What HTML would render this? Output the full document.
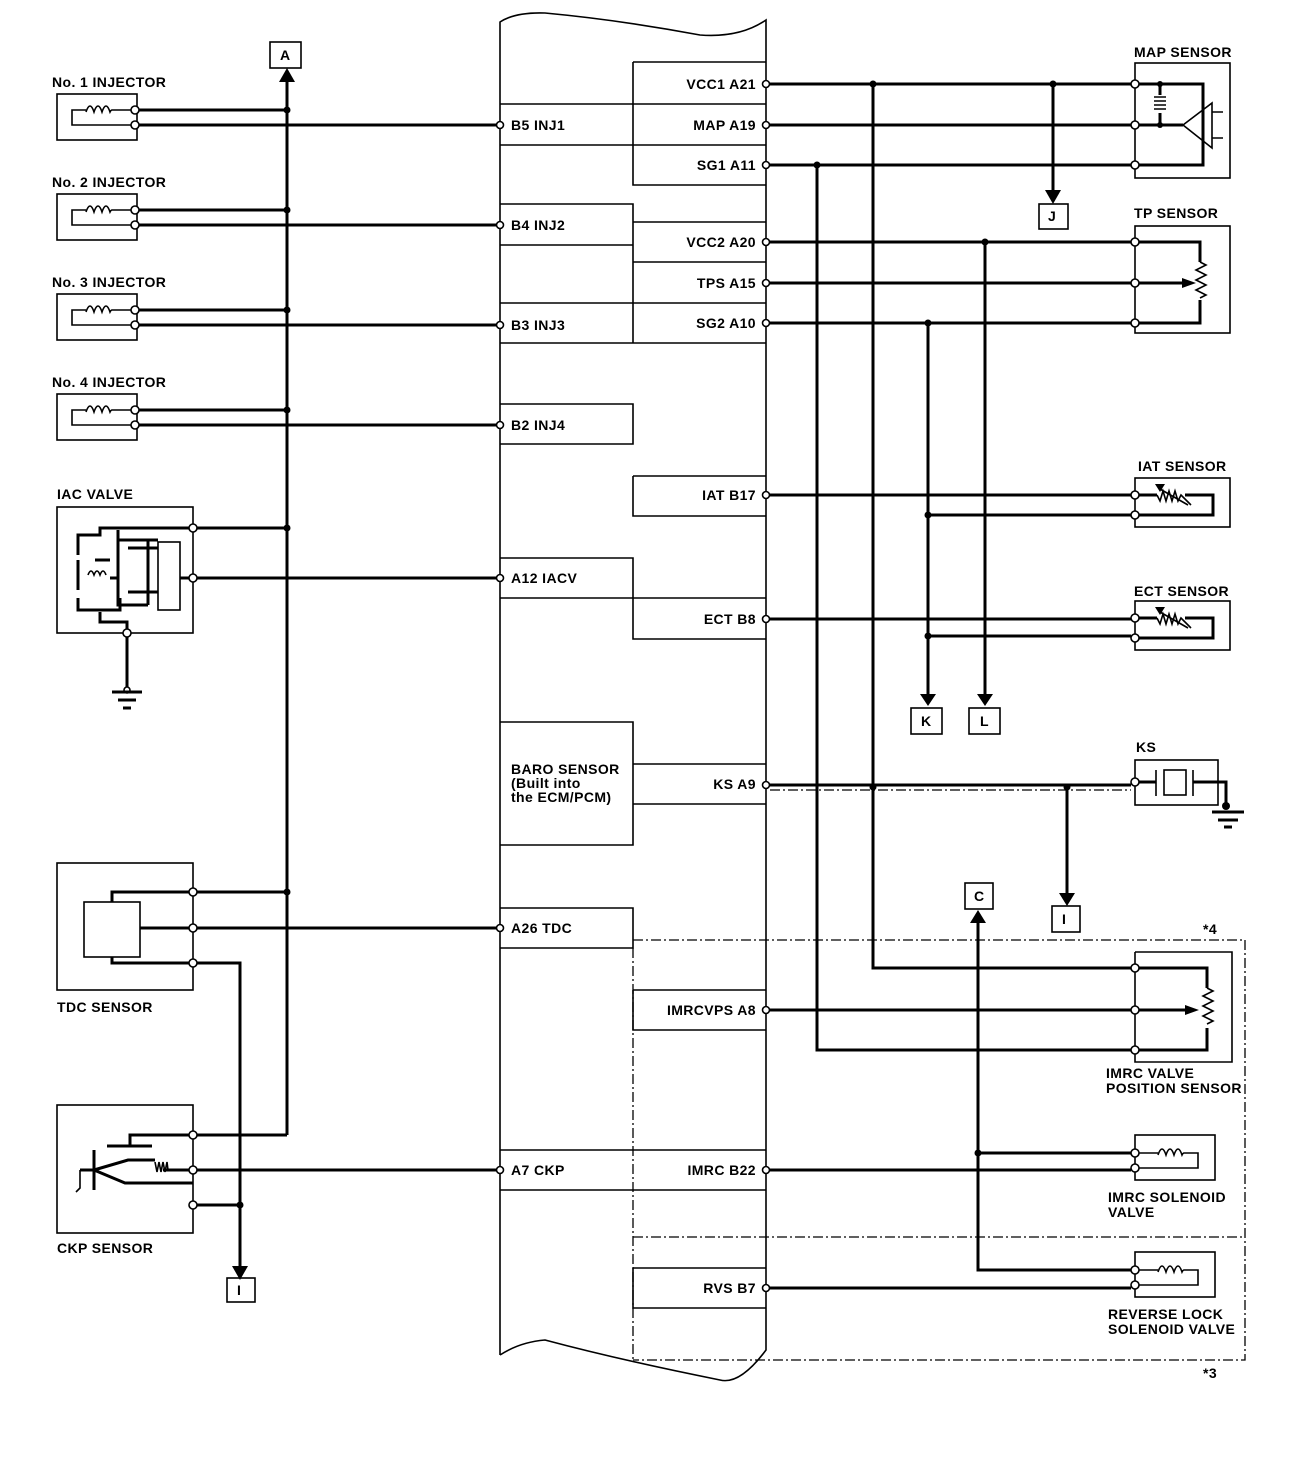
<!DOCTYPE html>
<html><head><meta charset="utf-8"><style>
html,body{margin:0;padding:0;background:#fff}
svg{display:block}
text{font-family:"Liberation Sans",sans-serif;font-weight:bold;font-size:14px;letter-spacing:0.4px;fill:#000}
.w{stroke:#000;stroke-width:3;fill:none}
.t{stroke:#000;stroke-width:1.6;fill:none}
.d{stroke:#000;stroke-width:1.3;fill:none;stroke-dasharray:10 3 2 3}
.p{fill:#fff;stroke:#000;stroke-width:1.6}
.j{fill:#000}
</style></head><body>
<svg width="1312" height="1460" viewBox="0 0 1312 1460" xmlns="http://www.w3.org/2000/svg">

<!-- ECM body -->
<path class="t" d="M500,1355 L500,22 Q515,12 545,13 Q620,20 700,35 Q740,38 766,20 L766,1350 Q740,1385 720,1380 Q620,1360 545,1340 Q520,1342 500,1355"/>
<path class="t" d="M633,62 H766 M633,62 V185 H766 M500,104 H766 M500,145 H766"/>
<path class="t" d="M500,204 H633 V343 M500,245 H633 M633,222 H766 M633,262 H766 M633,303 H766 M500,303 H633 M500,343 H766"/>
<path class="t" d="M500,404 H633 V444 H500"/>
<path class="t" d="M633,476 H766 M633,476 V516 H766"/>
<path class="t" d="M500,558 H633 V639 H766 M500,598 H766"/>
<path class="t" d="M500,722 H633 V845 H500 M633,764 H766 M633,804 H766"/>
<path class="t" d="M500,908 H633 V948 H500"/>
<path class="t" d="M633,990 H766 M633,990 V1030 H766"/>
<path class="t" d="M500,1150 H766 M500,1190 H766"/>
<path class="t" d="M633,1268 H766 M633,1268 V1308 H766"/>
<path class="d" d="M633,948 V1360 M633,940 H1245 V1360 H633 M633,1237 H1245"/>
<text x="1203" y="934" font-size="12">*4</text>
<text x="1203" y="1378" font-size="12">*3</text>

<g text-anchor="end">
<text x="756" y="89">VCC1 A21</text><text x="756" y="130">MAP A19</text><text x="756" y="170">SG1 A11</text>
<text x="756" y="247">VCC2 A20</text><text x="756" y="288">TPS A15</text><text x="756" y="328">SG2 A10</text>
<text x="756" y="500">IAT B17</text><text x="756" y="624">ECT B8</text><text x="756" y="789">KS A9</text>
<text x="756" y="1015">IMRCVPS A8</text><text x="756" y="1175">IMRC B22</text><text x="756" y="1293">RVS B7</text>
</g>
<text x="511" y="130">B5 INJ1</text><text x="511" y="230">B4 INJ2</text><text x="511" y="330">B3 INJ3</text><text x="511" y="430">B2 INJ4</text>
<text x="511" y="583">A12 IACV</text><text x="511" y="933">A26 TDC</text><text x="511" y="1175">A7 CKP</text>
<text x="511" y="774">BARO SENSOR</text><text x="511" y="788" font-size="12">(Built into</text><text x="511" y="802" font-size="12">the ECM/PCM)</text>

<path class="w" d="M287,1135 V80"/><path d="M279,82 L287,68 L295,82z"/>
<rect class="t" x="270" y="42" width="31" height="26"/><text x="280" y="60">A</text>

<g id="inj">
<text x="52" y="87">No. 1 INJECTOR</text>
<rect class="t" x="57" y="94" width="80" height="46"/>
<path class="t" stroke-width="2.5" d="M135,110 H112 M86,110 H72 V125 H135"/>
<path class="t" stroke-width="2.2" d="M86,112 q4,-12 8,0 q4,-12 8,0 q4,-12 8,0 q1,-2 2,-2"/>
<path class="w" d="M139,110 H287 M139,125 H496"/>
<circle class="p" cx="135" cy="110" r="4"/><circle class="p" cx="135" cy="125" r="4"/>
<circle class="j" cx="287" cy="110" r="3.5"/>
</g>
<use href="#inj" transform="translate(0,100)"/><use href="#inj" transform="translate(0,200)"/><use href="#inj" transform="translate(0,300)"/>
<rect x="50" y="174" width="130" height="16" fill="#fff"/><rect x="50" y="274" width="130" height="16" fill="#fff"/><rect x="50" y="374" width="130" height="16" fill="#fff"/>
<text x="52" y="187">No. 2 INJECTOR</text><text x="52" y="287">No. 3 INJECTOR</text><text x="52" y="387">No. 4 INJECTOR</text>

<text x="57" y="499">IAC VALVE</text>
<rect class="t" x="57" y="507" width="136" height="126"/>
<path class="w" stroke-width="2.5" d="M193,528 H100 V535 H78 V555 M78,560 V590 M78,598 V610 H120 V598 M100,612 V622 H127 V633 M118,540 V605 H148 M118,530 V590 M148,540 V605 M110,560 H95 M110,578 H118 M128,548 H158 M128,592 H158 M158,540 H118"/>
<path class="t" stroke-width="2" d="M88,575 q3,-8 6,0 q3,-8 6,0 q3,-8 6,0"/>
<rect class="t" x="158" y="542" width="22" height="68"/>
<path class="w" d="M180,578 H496 M197,528 H287 M127,637 V688"/>
<circle class="p" cx="193" cy="528" r="4"/><circle class="p" cx="193" cy="578" r="4"/><circle class="p" cx="127" cy="633" r="4"/>
<circle class="j" cx="287" cy="528" r="3.5"/>
<circle class="p" cx="127" cy="690" r="3"/>
<path class="w" d="M112,692 H142 M118,700 H136 M123,708 H131"/>

<rect class="t" x="57" y="863" width="136" height="127"/>
<rect class="t" x="84" y="902" width="56" height="55"/>
<path class="w" stroke-width="2.5" d="M112,902 V892 H193 M140,928 H193 M112,957 V963 H193"/>
<path class="w" d="M197,892 H287 M197,928 H496 M197,963 H240 V1268"/>
<path d="M232,1266 L240,1280 L248,1266z"/>
<circle class="p" cx="193" cy="892" r="4"/><circle class="p" cx="193" cy="928" r="4"/><circle class="p" cx="193" cy="963" r="4"/>
<circle class="j" cx="287" cy="892" r="3.5"/>
<text x="57" y="1012">TDC SENSOR</text>

<rect class="t" x="57" y="1105" width="136" height="128"/>
<path class="w" stroke-width="2.5" d="M193,1135 H130 V1146 M107,1146 H152 M94,1150 V1190 M94,1170 L128,1160 H155 M163,1170 H193 M94,1170 L125,1183 H193 M80,1170 H94"/>
<path class="t" stroke-width="2" d="M155,1162 l2,10 l2,-10 l2,10 l2,-10 l2,10 l2,-10 l1,8"/>
<path class="t" d="M80,1170 V1188 L76,1192"/>
<path class="w" d="M197,1135 H287 M197,1170 H496 M197,1205 H240"/>
<circle class="p" cx="193" cy="1135" r="4"/><circle class="p" cx="193" cy="1170" r="4"/><circle class="p" cx="193" cy="1205" r="4"/>
<circle class="j" cx="240" cy="1205" r="3.5"/>
<text x="57" y="1253">CKP SENSOR</text>
<rect class="t" x="227" y="1278" width="28" height="24"/><text x="237" y="1295">I</text>

<path class="w" d="M770,84 H1131 M770,125 H1131 M770,165 H1131"/>
<path class="w" d="M873,84 V968 H1131 M1053,84 V192 M817,165 V1050 H1131"/>
<path d="M1045,190 L1053,204 L1061,190z"/>
<circle class="j" cx="873" cy="84" r="3.5"/><circle class="j" cx="1053" cy="84" r="3.5"/><circle class="j" cx="817" cy="165" r="3.5"/>
<rect class="t" x="1039" y="204" width="29" height="25"/><text x="1048" y="221">J</text>
<text x="1134" y="57">MAP SENSOR</text>
<rect class="t" x="1135" y="63" width="95" height="115"/>
<path class="w" stroke-width="2.5" d="M1135,84 H1203 V165 H1135 M1135,125 H1183 M1160,84 V95 M1160,113 V125"/>
<path class="t" stroke-width="2" d="M1154,97 h12 M1154,101 h12 M1154,105 h12 M1154,109 h12"/>
<circle class="j" cx="1160" cy="84" r="3"/><circle class="j" cx="1160" cy="125" r="3"/>
<path class="t" d="M1183,125 L1212,103 V148 Z M1212,112 H1223 M1212,138 H1223"/>
<circle class="p" cx="1135" cy="84" r="4"/><circle class="p" cx="1135" cy="125" r="4"/><circle class="p" cx="1135" cy="165" r="4"/>
<text x="1134" y="218">TP SENSOR</text>
<rect class="t" x="1135" y="226" width="95" height="107"/>
<path class="w" d="M770,242 H1131 M770,283 H1131 M770,323 H1131 M985,242 V694 M928,323 V694 M928,515 H1131 M928,636 H1131 M770,495 H1131 M770,619 H1131 M770,1010 H1131 M770,1170 H1131 M770,1288 H1131"/>
<path class="w" stroke-width="2.5" d="M1139,242 H1200 V262 M1200,300 V323 H1139 M1139,283 H1183"/>
<path d="M1182,278 L1196,283 L1182,288z"/>
<path class="t" stroke-width="2" d="M1200,262 l6,3 l-10,5 l10,5 l-10,5 l10,5 l-10,5 l10,5 l-6,3"/>
<circle class="p" cx="1135" cy="242" r="4"/><circle class="p" cx="1135" cy="283" r="4"/><circle class="p" cx="1135" cy="323" r="4"/>
<circle class="j" cx="985" cy="242" r="3.5"/><circle class="j" cx="928" cy="323" r="3.5"/><circle class="j" cx="928" cy="515" r="3.5"/><circle class="j" cx="928" cy="636" r="3.5"/>
<path d="M920,694 L928,706 L936,694z M977,694 L985,706 L993,694z"/>
<rect class="t" x="911" y="708" width="31" height="26"/><text x="921" y="726">K</text>
<rect class="t" x="969" y="708" width="31" height="26"/><text x="980" y="726">L</text>
<g id="th">
<text x="1138" y="471">IAT SENSOR</text>
<rect class="t" x="1135" y="478" width="95" height="49"/>
<path class="w" stroke-width="2.5" d="M1139,495 H1157 M1185,495 H1213 V515 H1139"/>
<path class="t" stroke-width="2" d="M1157,495 l3,6 l3,-10 l3,10 l3,-10 l3,10 l3,-10 l3,10 l3,-6 l10,10 M1160,489 l28,16"/>
<path d="M1155,484 L1165,484 L1160,492z"/>
<circle class="p" cx="1135" cy="495" r="4"/><circle class="p" cx="1135" cy="515" r="4"/>
</g>
<use href="#th" transform="translate(0,123)"/>
<rect x="1130" y="581" width="115" height="16" fill="#fff"/>
<text x="1134" y="596">ECT SENSOR</text>
<path class="w" d="M770,785 H1131"/>
<path class="d" d="M770,790 H1131"/>
<path class="w" d="M1067,785 V895"/><path d="M1059,893 L1067,906 L1075,893z"/>
<circle class="j" cx="873" cy="787" r="3.5"/><circle class="j" cx="1067" cy="787" r="3.5"/>
<rect class="t" x="1052" y="906" width="28" height="26"/><text x="1062" y="924">I</text>
<text x="1136" y="752">KS</text>
<rect class="t" x="1135" y="760" width="83" height="45"/>
<path class="w" stroke-width="2.5" d="M1139,782 H1156 M1193,782 H1226 V805"/>
<path class="t" stroke-width="2" d="M1156,770 V796 M1193,770 V796"/>
<rect class="t" x="1164" y="770" width="22" height="25"/>
<circle class="j" cx="1226" cy="806" r="4"/>
<path class="w" d="M1212,812 H1244 M1218,820 H1238 M1224,827 H1232"/>
<circle class="p" cx="1135" cy="782" r="4"/>
<rect class="t" x="965" y="883" width="28" height="26"/><text x="974" y="901">C</text>
<path d="M970,923 L978,910 L986,923z"/>
<path class="w" d="M978,920 V1270 H1131 M978,1153 H1131"/>
<circle class="j" cx="978" cy="1153" r="3.5"/>
<path class="t" d="M1135,952 H1232 V1062 H1135 V952"/>
<path class="w" stroke-width="2.5" d="M1139,968 H1207 V988 M1207,1028 V1050 H1139 M1139,1010 H1187"/>
<path d="M1185,1005 L1199,1010 L1185,1015z"/>
<path class="t" stroke-width="2" d="M1207,988 l6,3 l-10,5 l10,5 l-10,5 l10,5 l-10,5 l10,5 l-6,3"/>
<circle class="p" cx="1135" cy="968" r="4"/><circle class="p" cx="1135" cy="1010" r="4"/><circle class="p" cx="1135" cy="1050" r="4"/>
<text x="1106" y="1078">IMRC VALVE</text><text x="1106" y="1093">POSITION SENSOR</text>
<g id="sol">
<rect class="t" x="1135" y="1135" width="80" height="45"/>
<path class="t" stroke-width="2.5" d="M1139,1153 H1158 M1184,1153 H1198 V1168 H1139"/>
<path class="t" stroke-width="2.2" d="M1158,1155 q4,-12 8,0 q4,-12 8,0 q4,-12 8,0 q1,-2 2,-2"/>
<circle class="p" cx="1135" cy="1153" r="4"/><circle class="p" cx="1135" cy="1168" r="4"/>
</g>
<use href="#sol" transform="translate(0,117)"/>
<text x="1108" y="1202">IMRC SOLENOID</text><text x="1108" y="1217">VALVE</text>
<text x="1108" y="1319">REVERSE LOCK</text><text x="1108" y="1334">SOLENOID VALVE</text>

<g>
<circle class="p" cx="766" cy="84" r="3.5"/><circle class="p" cx="766" cy="125" r="3.5"/><circle class="p" cx="766" cy="165" r="3.5"/>
<circle class="p" cx="766" cy="242" r="3.5"/><circle class="p" cx="766" cy="283" r="3.5"/><circle class="p" cx="766" cy="323" r="3.5"/>
<circle class="p" cx="766" cy="495" r="3.5"/><circle class="p" cx="766" cy="619" r="3.5"/><circle class="p" cx="766" cy="785" r="3.5"/>
<circle class="p" cx="766" cy="1010" r="3.5"/><circle class="p" cx="766" cy="1170" r="3.5"/><circle class="p" cx="766" cy="1288" r="3.5"/>
<circle class="p" cx="500" cy="125" r="3.5"/><circle class="p" cx="500" cy="225" r="3.5"/><circle class="p" cx="500" cy="325" r="3.5"/><circle class="p" cx="500" cy="425" r="3.5"/>
<circle class="p" cx="500" cy="578" r="3.5"/><circle class="p" cx="500" cy="928" r="3.5"/><circle class="p" cx="500" cy="1170" r="3.5"/>
</g>
</svg>
</body></html>
